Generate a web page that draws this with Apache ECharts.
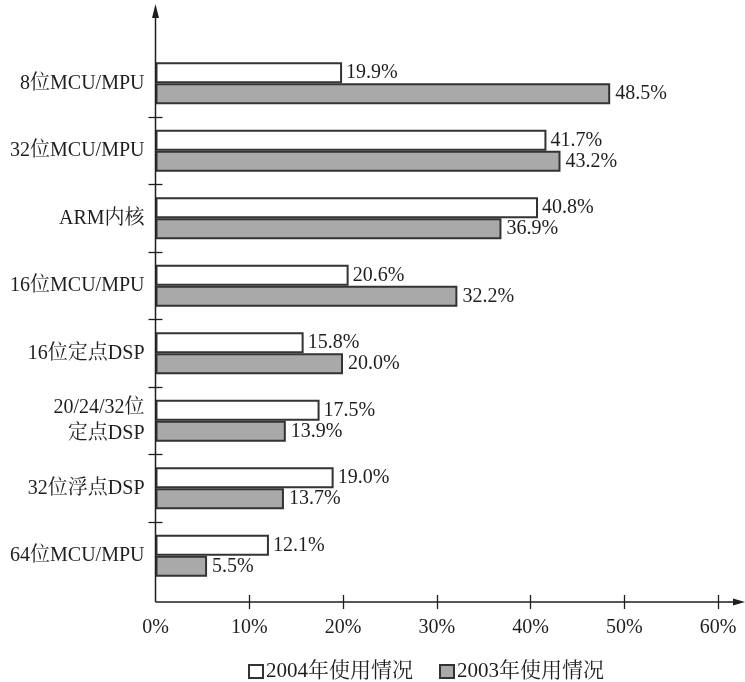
<!DOCTYPE html>
<html><head><meta charset="utf-8">
<script src="https://cdn.jsdelivr.net/npm/echarts@6/dist/echarts.min.js"></script>
<style>html,body{margin:0;padding:0;background:#fff;}#c{width:745px;height:682px;}</style>
</head><body><div id="c"></div>
<script>
const categories = ['8位MCU/MPU','32位MCU/MPU','ARM内核','16位MCU/MPU','16位定点DSP','20/24/32位\n定点DSP','32位浮点DSP','64位MCU/MPU'];
const values2004 = [19.9, 41.7, 40.8, 20.6, 15.8, 17.5, 19.0, 12.1];
const values2003 = [48.5, 43.2, 36.9, 32.2, 20.0, 13.9, 13.7, 5.5];
const xTicks = [10, 20, 30, 40, 50, 60];
const xLabelValues = [0, 10, 20, 30, 40, 50, 60];
const bandBoundaries = [1, 2, 3, 4, 5, 6, 7];

const serif = '"Liberation Serif", "Times New Roman", "Noto Serif CJK SC", "Noto Sans CJK SC", serif';
const ink = '#1e1e1e';
const chart = echarts.init(document.getElementById('c'));
const G = {left: 155.5, top: 49.5, width: 562.5, height: 540};
const axisY = 602;

chart.setOption({
  animation: false,
  backgroundColor: '#fff',
  grid: {left: G.left, top: G.top, width: G.width, height: G.height, containLabel: false},
  legend: {
    left: 243, top: 656, itemGap: 26, itemWidth: 14, itemHeight: 13,
    icon: 'rect',
    textStyle: {fontFamily: serif, fontSize: 21, color: ink, padding: [0,0,0,-2]},
    data: ['2004年使用情况', '2003年使用情况']
  },
  xAxis: [{
    type: 'value', min: 0, max: 60, interval: 10, offset: axisY - 7 - (G.top + G.height),
    position: 'bottom',
    axisLine: {show: false, onZero: false},
    axisTick: {show: true, length: 14, lineStyle: {color: ink, width: 1.3}, customValues: xTicks},
    axisLabel: {fontFamily: serif, fontSize: 20, color: ink, margin: 23, formatter: '{value}%', customValues: xLabelValues},
    splitLine: {show: false}
  }],
  yAxis: [{
    type: 'category', inverse: true, data: categories,
    axisLine: {show: false, onZero: false}, axisTick: {show: false},
    axisLabel: {fontFamily: serif, fontSize: 20, color: ink, margin: 11, lineHeight: 26, align: 'right'}
  }, {
    type: 'value', min: 0, max: 8, inverse: true, offset: -7, position: 'left',
    axisLine: {show: false, onZero: false},
    axisTick: {show: true, length: 14, lineStyle: {color: ink, width: 1.3}, customValues: bandBoundaries},
    axisLabel: {show: false}, splitLine: {show: false}
  }],
  series: [{
    name: '2004年使用情况', type: 'bar', data: values2004, yAxisIndex: 0,
    barWidth: 21, barGap: '0%',
    itemStyle: {color: '#ffffff', borderColor: '#333', borderWidth: 2},
    label: {show: true, position: 'right', distance: 4, fontFamily: serif, fontSize: 20, color: ink,
      formatter: p => p.value.toFixed(1) + '%'}
  }, {
    name: '2003年使用情况', type: 'bar', data: values2003, yAxisIndex: 0,
    barWidth: 21, barGap: '0%',
    itemStyle: {color: '#a9a9a9', borderColor: '#333', borderWidth: 2},
    label: {show: true, position: 'right', distance: 5, fontFamily: serif, fontSize: 20, color: ink,
      formatter: p => p.value.toFixed(1) + '%'}
  }],
  graphic: [
    {type: 'line', shape: {x1: G.left, y1: axisY, x2: 738, y2: axisY}, style: {stroke: ink, lineWidth: 1.5}, z: 10},
    {type: 'polygon', shape: {points: [[745, axisY], [733, axisY - 3.5], [733, axisY + 3.5]]}, style: {fill: ink}, z: 10},
    {type: 'line', shape: {x1: G.left, y1: axisY, x2: G.left, y2: 12}, style: {stroke: ink, lineWidth: 1.5}, z: 10},
    {type: 'polygon', shape: {points: [[G.left, 4], [G.left - 3.5, 18], [G.left + 3.5, 18]]}, style: {fill: ink}, z: 10}
  ]
});
</script></body></html>
